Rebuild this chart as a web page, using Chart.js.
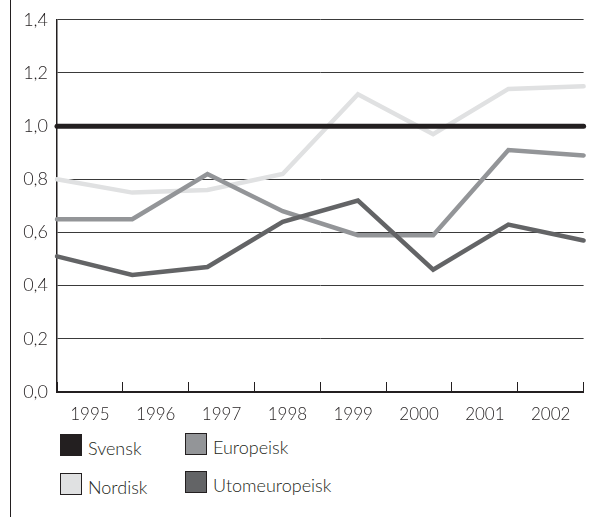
<!DOCTYPE html>
<html>
<head>
<meta charset="utf-8">
<script src="https://cdn.jsdelivr.net/npm/chart.js@4/dist/chart.umd.min.js"></script>
<style>
  body { margin: 0; background: #fff; }
  #wrap { position: relative; width: 593px; height: 517px; overflow: hidden; }
  #frame { position: absolute; left: 10px; top: 0; width: 1px; height: 517px; background: #231f20; }
  #chart { position: absolute; left: 0; top: 0; }
  .item { position: absolute; font-family: Lato, sans-serif; font-weight: 300; font-size: 18px; color: #231f20; height: 22px; }
  .item .box { position: absolute; left: 0; top: 0; width: 20px; height: 20px; border: 1px solid #231f20; }
  .item .txt { position: absolute; left: 28px; top: 3px; white-space: nowrap; }
</style>
</head>
<body>
<div id="wrap">
  <div id="frame"></div>
  <canvas id="chart" width="593" height="430"></canvas>
  <div id="legend"></div>
</div>
<script>
// years
var years = ['1995', '1996', '1997', '1998', '1999', '2000', '2001', '2002'];

// series
var svensk = [1.0, 1.0, 1.0, 1.0, 1.0, 1.0, 1.0, 1.0];
var nordisk = [0.80, 0.75, 0.76, 0.82, 1.12, 0.97, 1.14, 1.15];
var europeisk = [0.65, 0.65, 0.82, 0.68, 0.59, 0.59, 0.91, 0.89];
var utomeuropeisk = [0.51, 0.44, 0.47, 0.64, 0.72, 0.46, 0.63, 0.57];

var seriesNames = ['Svensk', 'Nordisk', 'Europeisk', 'Utomeuropeisk'];
var seriesColors = ['#231f20', '#e0e1e2', '#939598', '#636466'];

function makeDataset(i, values, width) {
    return {
        label: seriesNames[i],
        data: values,
        borderColor: seriesColors[i],
        backgroundColor: seriesColors[i],
        borderWidth: width,
        borderCapStyle: 'round',
        pointRadius: 0,
        tension: 0,
        clip: false,
        xAxisID: 'x'
    };
}

var ink = '#231f20';

var ctx = document.getElementById('chart').getContext('2d');
new Chart(ctx, {
    type: 'line',
    data: {
        labels: years,
        datasets: [
            makeDataset(0, svensk, 5),
            makeDataset(3, utomeuropeisk, 4.5),
            makeDataset(2, europeisk, 4.5),
            makeDataset(1, nordisk, 4.5)
        ]
    },
    options: {
        responsive: false,
        animation: false,
        layout: { padding: { top: 16, right: 9, left: 0, bottom: 0 } },
        plugins: {
            legend: { display: false },
            tooltip: { enabled: false }
        },
        scales: {
            x: {
                type: 'category',
                offset: false,
                display: false
            },
            x2: {
                type: 'category',
                position: 'bottom',
                labels: years,
                offset: true,
                grid: {
                    offset: true,
                    drawOnChartArea: false,
                    drawTicks: true,
                    tickLength: -10,
                    color: ink,
                    lineWidth: 1
                },
                border: { display: true, color: ink, width: 2 },
                ticks: {
                    padding: 22,
                    color: ink,
                    font: { family: 'Lato', size: 17, weight: '300' },
                    maxRotation: 0,
                    autoSkip: false
                },
                afterFit: function(scale) { scale.height = 38; }
            },
            y: {
                min: 0,
                max: 1.4,
                ticks: {
                    stepSize: 0.2,
                    padding: 9,
                    color: ink,
                    font: { family: 'Lato', size: 18, weight: '300' },
                    callback: function(v) { return v.toFixed(1).replace('.', ','); }
                },
                grid: { color: '#3a3a3a', lineWidth: 1, drawTicks: false },
                border: { display: true, color: ink, width: 1.5 },
                afterFit: function(scale) { scale.width = 57; }
            }
        }
    }
});

// legend, two columns
var legendPos = [
    { left: 60, top: 434 },   // Svensk
    { left: 60, top: 473 },   // Nordisk
    { left: 185, top: 433 },  // Europeisk
    { left: 185, top: 471 }   // Utomeuropeisk
];
var legend = document.getElementById('legend');
seriesNames.forEach(function(name, i) {
    var el = document.createElement('div');
    el.className = 'item';
    el.style.left = legendPos[i].left + 'px';
    el.style.top = legendPos[i].top + 'px';
    el.innerHTML = '<div class="box" style="background:' + seriesColors[i] + '"></div><span class="txt">' + name + '</span>';
    legend.appendChild(el);
});
</script>
</body>
</html>
